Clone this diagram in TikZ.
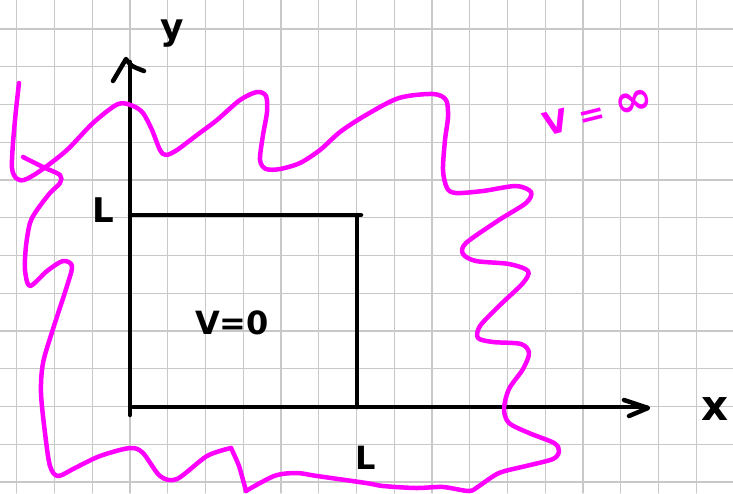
\documentclass[tikz,border=0pt]{standalone}
\usepackage{fontspec}
\setmainfont{DejaVu Sans}
\definecolor{gridgray}{HTML}{C8C8C8}
\definecolor{magentaink}{HTML}{FF00FF}
\begin{document}
\begin{tikzpicture}[x=1pt,y=-1pt, line cap=round, line join=round,
  gridline/.style={line width=1.4pt, gridgray},
  ink/.style={line width=4.5pt, black},
  pinkink/.style={line width=4.5pt, magentaink},
  lbl/.style={inner sep=0pt, font=\bfseries\fontsize{34}{40}\selectfont}]
\fill[white] (0,0) rectangle (733,493);
\useasboundingbox (0,0) rectangle (733,493);
% grid paper
\foreach \i in {0,...,19} \draw[gridline] ({16.7+37.75*\i},0) -- ({16.7+37.75*\i},493);
\foreach \j in {0,...,12} \draw[gridline] (0,{29+37.75*\j}) -- (733,{29+37.75*\j});

% key points
\coordinate (O) at (130,407);
\coordinate (ybot) at (130,415);
\coordinate (ytop) at (130,62);
\coordinate (xstart) at (133,407);
\coordinate (xend) at (646,407);
\coordinate (BL) at (130,215);
\coordinate (BR) at (361,215);
\coordinate (RT) at (357,215);
\coordinate (RB) at (357,407);

% axes
\draw[ink] (ybot) -- (ytop);
\draw[ink] (113,81) -- (126,59) .. controls (131,66) .. (144,71);
\draw[ink] (xstart) -- (xend);
\draw[ink] (624,400) -- (648,408) -- (629,416);
% box
\draw[ink] (BL) -- (BR);
\draw[ink] (RT) -- (RB);

% labels
\node[lbl, font=\bfseries\fontsize{36}{40}\selectfont] (ylab) at (172,34) {y};
\node[lbl, font=\bfseries\fontsize{42}{48}\selectfont] (xlab) at (715,409) {x};
\node[lbl] (Lleft) at (103,210) {L};
\node[lbl, font=\bfseries\fontsize{32}{36}\selectfont] (Lbot) at (366,458) {L};
\node[lbl, font=\bfseries\fontsize{32}{36}\selectfont] (Vin) at (232,323) {V=0};
\node[lbl, font=\bfseries\fontsize{32}{36}\selectfont, text=magentaink, rotate=14] (Vout) at (598,112) {V = {\fontsize{46}{46}\selectfont ∞}};

% wavy boundary
\draw[pinkink] plot[smooth, tension=0.5] coordinates {
 (19,83) (16,110) (13,143) (12,168) (16,178) (24,180) (40,171) (67,150) (93,123)
 (118,104) (133,106) (143,113) (152,130) (160,150) (166,155) (177,150) (197,135)
 (217,120) (240,100) (257,92) (266,96) (267,112) (263,135) (260,160) (266,169)
 (280,169) (300,163) (320,150) (340,132) (366,115) (399,98) (433,94) (446,100)
 (448,117) (445,140) (443,170) (447,188) (456,193) (483,191) (516,186) (531,192)
 (526,203) (499,220) (466,243) (463,254) (476,261) (509,264) (528,271) (523,283)
 (499,306) (480,326) (478,338) (493,342) (521,344) (529,353) (523,369) (509,389)
 (504,409) (509,423) (529,433) (554,443) (559,451) (553,459) (526,466) (499,473)
 (479,486) (469,491) (443,487) (416,488) (383,486) (366,483) (317,476) (297,473)
 (277,475) (260,483) (246,491)};
\draw[pinkink] plot[smooth, tension=0.4] coordinates {(246,491) (239,466) (231,448)};
\draw[pinkink] plot[smooth, tension=0.5] coordinates {
 (231,448) (207,456) (177,479) (160,476) (143,453) (130,448)
 (100,456) (75,468) (58,476) (50,466) (45,433) (41,393) (43,363) (53,329) (67,286)
 (72,266) (63,261) (47,271) (30,286) (25,270) (26,246) (30,223) (37,210) (50,193)
 (60,183) (60,175) (43,167) (23,157)};
\end{tikzpicture}
\end{document}
